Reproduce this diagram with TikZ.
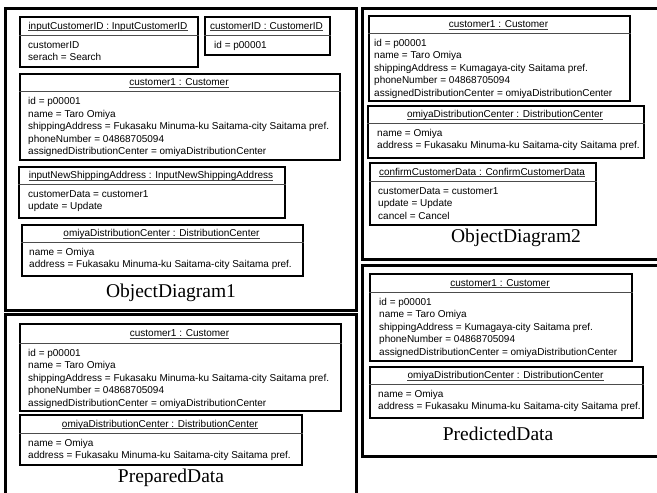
\documentclass[tikz,border=0pt]{standalone}
\usepackage{fontspec}
\newfontfamily\uifont{Liberation Sans}
\newfontfamily\capfont{Liberation Serif}

% Object box: name, x1, y1, x2, y2, separator y, text indent, header, attribute lines
\newcommand\objbox[9]{%
  \node[objframe, anchor=north west,
        minimum width={(#4-#2)*1pt}, minimum height={(#5-#3)*1pt}] (#1) at (#2,#3) {};
  \draw[objsep] (#1.west |- 0,#6) -- (#1.east |- 0,#6);
  \node[objhead, anchor=base] (#1-head) at ({(#2+#4)/2},{(#3+#6)/2+3.6}) {#8};
  \draw[objul] ([yshift=-1.6pt]#1-head.base west) -- ([yshift=-1.6pt]#1-head.base east);
  \foreach \t [count=\i] in {#9} {
    \node[objtext, anchor=base west] (#1-l\i) at ({#2+#7},{#6+13.3+(\i-1)*12.5}) {\t};
  }%
}

% Diagram panel: name, x1, y1, x2, y2
\newcommand\panelbox[5]{%
  \node[panelframe, anchor=north west,
        minimum width={(#4-#2)*1pt}, minimum height={(#5-#3)*1pt}] (#1) at (#2,#3) {};
}

\tikzset{
  objframe/.style={draw=black, line width=1.6pt, inner sep=0pt, fill=white},
  objsep/.style={draw=black!70, line width=1pt},
  objul/.style={draw=black!75, line width=0.8pt},
  objhead/.style={font=\uifont\fontsize{10}{12}\selectfont, inner sep=0pt},
  objtext/.style={font=\uifont\fontsize{10}{12}\selectfont, inner sep=0pt},
  panelframe/.style={draw=black, line width=2.6pt, inner sep=0pt},
  caption/.style={font=\capfont\fontsize{19.5}{22}\selectfont, inner sep=0pt, anchor=center},
}

\begin{document}
\begin{tikzpicture}[x=1pt, y=-1pt]
\useasboundingbox (0,0) rectangle (657,493);
\fill[white] (0,0) rectangle (657,493);
\clip (0,0) rectangle (657,493);

% ---------------- ObjectDiagram1 ----------------
\panelbox{od1}{4}{7}{355}{309}
\objbox{od1a}{19}{16}{197}{66}{35}{9}{inputCustomerID : InputCustomerID}
  {customerID, serach = Search}
\objbox{od1b}{204}{16}{329}{54}{35}{10}{customerID : CustomerID}
  {id = p00001}
\objbox{od1c}{19}{73}{339}{159}{91.5}{9}{customer1 : Customer}
  {id = p00001, name = Taro Omiya,
   shippingAddress = Fukasaku Minuma-ku Saitama-city Saitama pref.,
   phoneNumber = 04868705094,
   assignedDistributionCenter = omiyaDistributionCenter}
\objbox{od1d}{18}{166}{284}{217}{184}{10}{inputNewShippingAddress : InputNewShippingAddress}
  {customerData = customer1, update = Update}
\objbox{od1e}{21}{224}{302}{275}{242}{8}{omiyaDistributionCenter : DistributionCenter}
  {name = Omiya, address = Fukasaku Minuma-ku Saitama-city Saitama pref.}
\node[caption] (od1cap) at (171,293) {ObjectDiagram1};

% ---------------- PreparedData ----------------
\panelbox{pd}{4}{313}{355}{520}
\objbox{pda}{19}{323}{340}{410}{343}{9}{customer1 : Customer}
  {id = p00001, name = Taro Omiya,
   shippingAddress = Fukasaku Minuma-ku Saitama-city Saitama pref.,
   phoneNumber = 04868705094,
   assignedDistributionCenter = omiyaDistributionCenter}
\objbox{pdb}{19}{414}{301}{464}{433}{9}{omiyaDistributionCenter : DistributionCenter}
  {name = Omiya, address = Fukasaku Minuma-ku Saitama-city Saitama pref.}
\node[caption] (pdcap) at (171,478) {PreparedData};

% ---------------- ObjectDiagram2 ----------------
\panelbox{od2}{361}{7}{680}{258}
\objbox{od2a}{368}{15}{629}{100}{33}{6}{customer1 : Customer}
  {id = p00001, name = Taro Omiya,
   shippingAddress = Kumagaya-city Saitama pref.,
   phoneNumber = 04868705094,
   assignedDistributionCenter = omiyaDistributionCenter}
\objbox{od2b}{367}{105}{643}{157}{123}{10}{omiyaDistributionCenter : DistributionCenter}
  {name = Omiya, address = Fukasaku Minuma-ku Saitama-city Saitama pref.}
\objbox{od2c}{369}{162}{595}{224}{181}{9}{confirmCustomerData : ConfirmCustomerData}
  {customerData = customer1, update = Update, cancel = Cancel}
\node[caption] (od2cap) at (516,238) {ObjectDiagram2};

% ---------------- PredictedData ----------------
\panelbox{prd}{361}{264}{680}{455}
\objbox{prda}{369}{273}{631}{360}{292}{10}{customer1 : Customer}
  {id = p00001, name = Taro Omiya,
   shippingAddress = Kumagaya-city Saitama pref.,
   phoneNumber = 04868705094,
   assignedDistributionCenter = omiyaDistributionCenter}
\objbox{prdb}{369}{366}{642}{417}{384}{9}{omiyaDistributionCenter : DistributionCenter}
  {name = Omiya, address = Fukasaku Minuma-ku Saitama-city Saitama pref.}
\node[caption] (prdcap) at (498,434) {PredictedData};
\end{tikzpicture}
\end{document}
